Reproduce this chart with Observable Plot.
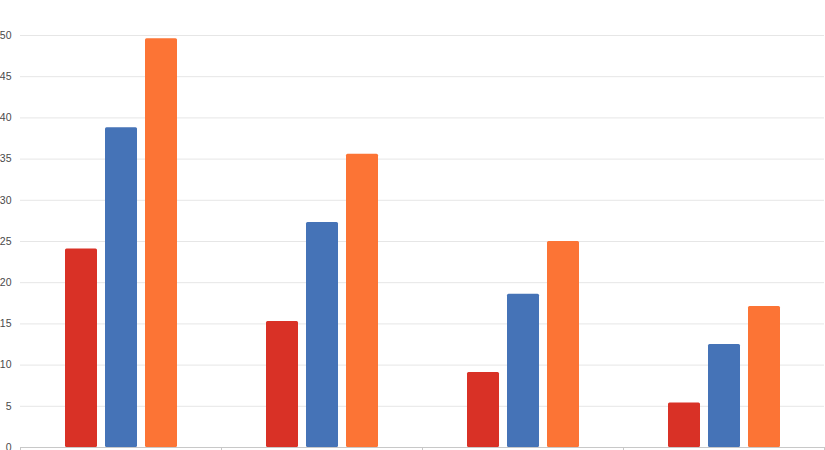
<!DOCTYPE html>
<html>
<head>
<meta charset="utf-8">
<script src="https://cdn.jsdelivr.net/npm/d3@7"></script>
<script src="https://cdn.jsdelivr.net/npm/@observablehq/plot@0.6"></script>
<style>
  html, body { margin: 0; padding: 0; background: #fff; }
  #chart svg { display: block; }
</style>
</head>
<body>
<div id="chart"></div>
<script>
const groups = ["Group 1", "Group 2", "Group 3", "Group 4"];
const redValues = [24.1, 15.3, 9.1, 5.4];
const blueValues = [38.8, 27.3, 18.6, 12.5];
const orangeValues = [49.6, 35.6, 25.0, 17.1];
const yTicks = [0, 5, 10, 15, 20, 25, 30, 35, 40, 45, 50];

const RED = "#d93126";
const BLUE = "#4573b7";
const ORANGE = "#fc7435";

const barOpts = (vals, color, dx) => ({
  x: d => d,
  y: (d, i) => vals[i],
  fill: color,
  dx,
  insetLeft: 84.5,
  insetRight: 84.5,
  rx: 1.5
});

const chart = Plot.plot({
  width: 825,
  height: 450,
  marginLeft: 20,
  marginRight: 1,
  marginTop: 35,
  marginBottom: 3,
  style: { fontFamily: "'Liberation Sans', Arial, sans-serif", fontSize: "10.5px", color: "#555", background: "#fff" },
  x: { domain: groups, padding: 0, axis: null },
  y: { domain: [0, 50], axis: null },
  marks: [
    Plot.ruleY(yTicks.filter(t => t > 0), { y: d => d, stroke: "#e6e6e6", strokeWidth: 1 }),
    Plot.axisY(yTicks, { anchor: "left", tickSize: 0, tickPadding: 9, fill: "#4a4a4a", label: null }),
    Plot.barY(groups, barOpts(redValues, RED, -39.5)),
    Plot.barY(groups, barOpts(blueValues, BLUE, 0.5)),
    Plot.barY(groups, barOpts(orangeValues, ORANGE, 40.5)),
    Plot.ruleY([0], { stroke: "#c8c8c8", strokeWidth: 1 }),
    Plot.ruleX(groups, { x: d => d, dx: 100.5, y1: 0, y2: -1, stroke: "#c8c8c8" }),
    Plot.ruleX(groups.slice(0, 1), { x: d => d, dx: -100.5, y1: 0, y2: -1, stroke: "#c8c8c8" })
  ]
});
document.getElementById("chart").appendChild(chart);
</script>
</body>
</html>
